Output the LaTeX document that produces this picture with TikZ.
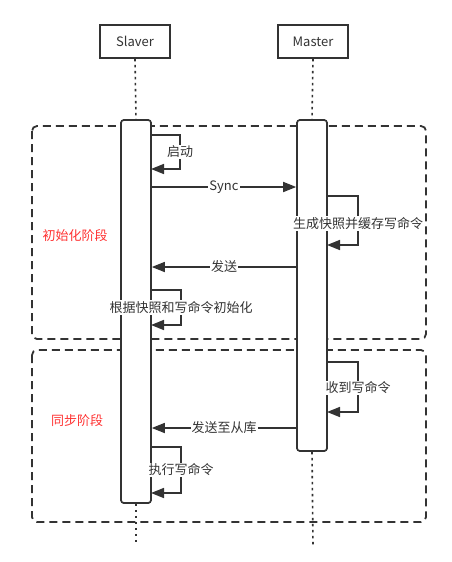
\documentclass[tikz,border=0pt]{standalone}
\usepackage{fontspec}
\setmainfont{Noto Sans CJK SC}
\usetikzlibrary{arrows.meta}
\definecolor{ln}{HTML}{333333}
\definecolor{rd}{HTML}{FF3333}
\begin{document}
\begin{tikzpicture}[x=1pt,y=-1pt,
  every node/.style={font=\fontsize{13}{15}\selectfont,text=ln},
  actor/.style={draw=ln,line width=1.6pt,minimum width=70pt,minimum height=33pt,inner sep=0pt,fill=white},
  act/.style={draw=ln,fill=white,line width=1.6pt,rounded corners=3pt,minimum width=30pt,inner sep=0pt},
  life/.style={draw=ln,line width=1.6pt,dash pattern=on 2.5pt off 3.5pt},
  phase/.style={draw=ln,line width=1.8pt,dash pattern=on 8pt off 5pt,rounded corners=5pt},
  msg/.style={draw=ln,line width=1.6pt,-{Triangle[length=13pt,width=10pt]}},
  lbl/.style={fill=white,inner sep=1pt},
  red/.style={text=rd,inner sep=0pt}
]
\useasboundingbox (0,0) rectangle (451,562);
% phase boxes
\draw[phase] (32,126) rectangle (426,339);
\draw[phase] (32,350) rectangle (426,522);
\node[red] (p1) at (75,236) {初始化阶段};
\node[red] (p2) at (77,421) {同步阶段};
% actors
\node[actor] (slaver) at (135,41.5) {Slaver};
\node[actor] (master) at (313,41.5) {Master};
% lifelines
\coordinate (sEnd) at (136,545);
\coordinate (mEnd) at (313,545);
% activations
\node[act,minimum height=383pt] (sa) at (136,311.5) {};
\node[act,minimum height=331pt] (ma) at (312,285.5) {};
\draw[life] (slaver.south) -- (sa.north);
\draw[life] (master.south) -- (ma.north);
\draw[life] (sa.south) -- (sEnd);
\draw[life] (ma.south) -- (mEnd);
% redraw activations above lifelines
\node[act,minimum height=383pt] at (136,311.5) {};
\node[act,minimum height=331pt] at (312,285.5) {};
% self loop: 启动
\coordinate (a1) at (151,135);
\coordinate (a2) at (180,135);
\coordinate (a3) at (180,169);
\coordinate (a4) at (151,169);
\draw[msg] (a1) -- (a2) -- node[lbl]{启动} (a3) -- (a4);
% Sync
\draw[msg] (sa.east |- 0,187) -- node[lbl]{Sync} (ma.west |- 0,187);
% master loop 1
\coordinate (b1) at (327,196);
\coordinate (b2) at (358,196);
\coordinate (b3) at (358,245);
\coordinate (b4) at (327,245);
\draw[msg] (b1) -- (b2) -- node[lbl,pos=0.56]{生成快照并缓存写命令} (b3) -- (b4);
% 发送
\draw[msg] (ma.west |- 0,267) -- node[lbl]{发送} (sa.east |- 0,267);
% slaver loop 2
\coordinate (c1) at (151,290);
\coordinate (c2) at (181,290);
\coordinate (c3) at (181,325);
\coordinate (c4) at (151,325);
\draw[msg] (c1) -- (c2) -- node[lbl]{根据快照和写命令初始化} (c3) -- (c4);
% master loop 2
\coordinate (d1) at (327,362);
\coordinate (d2) at (358,362);
\coordinate (d3) at (358,412);
\coordinate (d4) at (327,412);
\draw[msg] (d1) -- (d2) -- node[lbl,pos=0.52]{收到写命令} (d3) -- (d4);
% 发送至从库
\draw[msg] (ma.west |- 0,428) -- node[lbl]{发送至从库} (sa.east |- 0,428);
% slaver loop 3
\coordinate (e1) at (151,447);
\coordinate (e2) at (181,447);
\coordinate (e3) at (181,493);
\coordinate (e4) at (151,493);
\draw[msg] (e1) -- (e2) -- node[lbl]{执行写命令} (e3) -- (e4);
\end{tikzpicture}
\end{document}
